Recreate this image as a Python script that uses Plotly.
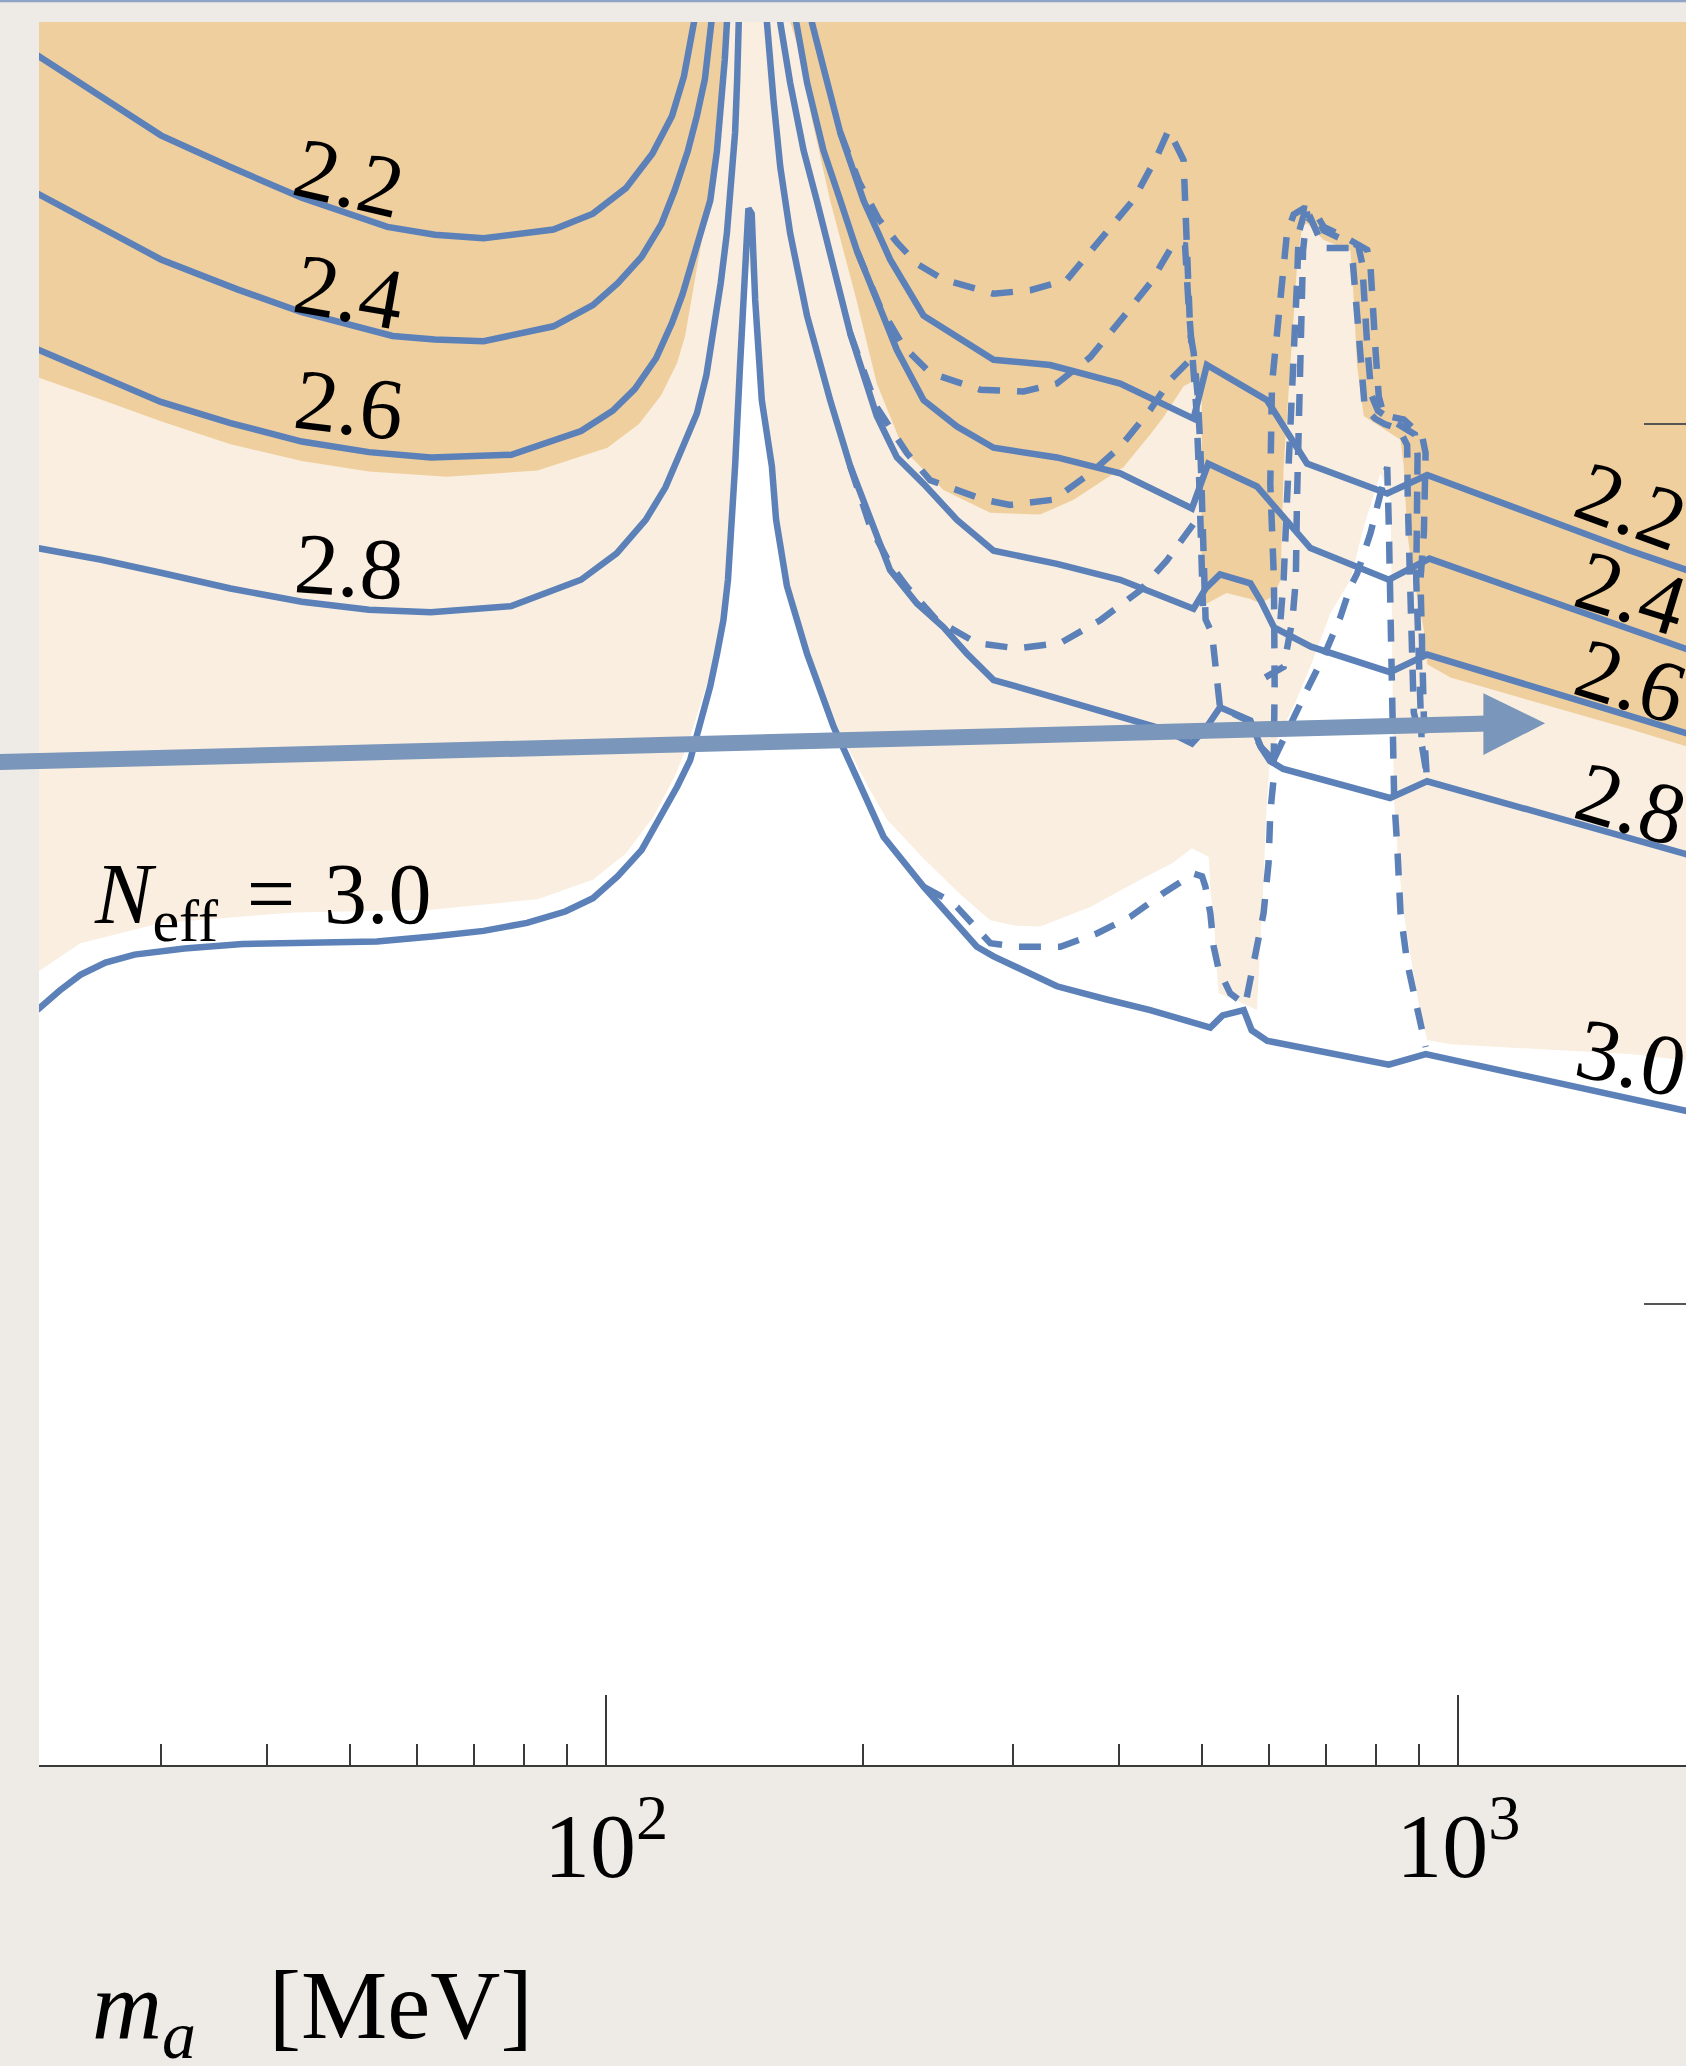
import numpy as np
import plotly.graph_objects as go

# ---------------- colours ----------------
ORANGE = "#F0CF9E"
CREAM = "#F9EEDF"
LINE = "#5C80B8"
ARROW = "#7A96BA"
PAGE = "#EEEBE6"
AXIS = "#3A3A3A"

# ---------------- axis ranges ----------------
X_RANGE = [1.33455, 3.2672]      # log10(m_a / MeV)
Y_RANGE = [0.4761, 2.4568]       # vertical coordinate (decades)

# ---------------- filled regions ----------------
# darker band (lowest N_eff)
OR_m = [21.26, 21.26, 25.49, 30.03, 36.25, 43.94, 52.68, 65.01, 83.09, 100.36, 109.3, 116.1, 121.2,
        123.8, 125.6, 127.8, 130.1, 132.5, 134.4, 136.3, 137.5, 137.8, 163.4, 164.6, 168.8, 174.3,
        183.2, 196.7, 207.8, 223.4, 248.8, 282.4, 323.1, 353.7, 404.8, 435.0, 451.0, 476.0, 493.6,
        499.9, 499.9, 534.7, 570.2, 586.5, 607.0, 618.6, 623.8, 635.2, 646.7, 655.5, 664.5, 695.2,
        747.3, 754.0, 760.8, 774.5, 817.7, 855.4, 863.0, 871.0, 886.7, 911.2, 919.3, 979.0, 1592,
        1919, 1919]
OR_u = [2.474, 2.055, 2.028, 2.003, 1.977, 1.958, 1.946, 1.940, 1.947, 1.973, 2.000, 2.033, 2.070,
        2.100, 2.135, 2.175, 2.220, 2.272, 2.332, 2.392, 2.456, 2.474, 2.474, 2.456, 2.422, 2.347,
        2.254, 2.141, 2.046, 1.971, 1.925, 1.899, 1.897, 1.914, 1.951, 1.988, 2.008, 2.043, 2.051,
        2.048, 1.793, 1.808, 1.801, 1.796, 1.805, 1.823, 1.952, 2.066, 2.179, 2.224, 2.228, 2.209,
        2.197, 2.141, 2.066, 2.009, 1.994, 1.982, 1.952, 1.876, 1.823, 1.766, 1.727, 1.712, 1.653,
        1.629, 2.474]

# light band
CR_m = [21.26, 21.26, 24.16, 30.03, 43.16, 62.28, 83.09, 96.50, 105.5, 113.7, 120.3, 124.7, 128.3,
        132.0, 135.8, 138.8, 141.2, 142.7, 144.3, 146.1, 146.9, 148.2, 149.5, 151.6, 155.5, 158.1,
        162.8, 171.8, 185.2, 202.4, 213.4, 235.9, 261.5, 282.4, 301.4, 323.1, 370.0, 423.4, 462.1,
        486.9, 509.6, 512.4, 516.4, 519.7, 523.4, 552.2, 580.4, 585.7, 590.9, 594.9, 601.7, 641.0,
        671.6, 707.9, 747.1, 774.5, 810.4, 832.7, 834.8, 836.6, 840.1, 849.1, 863.0, 883.6, 902.8,
        919.3, 979.0, 1592, 1919, 1919]
CR_u = [2.474, 1.374, 1.410, 1.433, 1.445, 1.448, 1.460, 1.482, 1.512, 1.554, 1.599, 1.636, 1.674,
        1.711, 1.763, 1.823, 1.891, 1.973, 2.066, 2.160, 2.187, 2.160, 2.093, 2.027, 1.965, 1.906,
        1.816, 1.741, 1.662, 1.590, 1.551, 1.506, 1.464, 1.436, 1.430, 1.429, 1.451, 1.482, 1.501,
        1.518, 1.508, 1.464, 1.444, 1.389, 1.353, 1.344, 1.334, 1.406, 1.482, 1.554, 1.626, 1.679,
        1.726, 1.785, 1.823, 1.883, 1.944, 1.914, 1.823, 1.709, 1.577, 1.509, 1.444, 1.382, 1.330,
        1.300, 1.295, 1.284, 1.275, 2.474]

# ---------------- solid contours, below the pion pole ----------------
L22_m = [21.5, 25.86, 30.03, 36.25, 43.94, 55.38, 62.95, 71.83, 86.74, 96.50, 105.5, 113.3, 119.5,
         123.4, 125.6, 126.9, 127.4]
L22_u = [2.419, 2.368, 2.328, 2.292, 2.257, 2.224, 2.215, 2.211, 2.221, 2.239, 2.268, 2.307, 2.350,
         2.395, 2.434, 2.456, 2.467]

L24_m = [21.5, 25.49, 30.03, 36.92, 43.94, 56.18, 62.95, 71.83, 86.74, 96.50, 103.2, 110.1, 116.1,
         120.3, 124.7, 127.8, 130.6, 132.9, 133.4]
L24_u = [2.262, 2.224, 2.187, 2.153, 2.127, 2.100, 2.096, 2.094, 2.111, 2.135, 2.160, 2.190, 2.227,
         2.265, 2.310, 2.350, 2.392, 2.456, 2.467]

L26_m = [21.5, 25.49, 30.03, 36.25, 43.94, 52.68, 62.28, 77.40, 93.46, 101.8, 108.1, 114.5, 119.5,
         122.9, 125.6, 128.8, 132.5, 134.9, 136.8, 137.8, 138.6, 138.8]
L26_u = [2.085, 2.054, 2.025, 2.001, 1.980, 1.968, 1.962, 1.965, 1.992, 2.015, 2.040, 2.075, 2.115,
         2.147, 2.179, 2.217, 2.254, 2.310, 2.368, 2.414, 2.456, 2.467]

L28_m = [21.5, 25.49, 30.03, 36.25, 43.94, 52.68, 62.28, 77.40, 93.46, 102.9, 111.3, 117.4, 122.9,
         127.8, 131.1, 133.7, 136.3, 138.6, 140.3, 141.7, 142.5, 143.0, 143.2]
L28_u = [1.859, 1.846, 1.831, 1.813, 1.798, 1.789, 1.786, 1.793, 1.823, 1.853, 1.891, 1.928, 1.973,
         2.012, 2.055, 2.103, 2.160, 2.217, 2.272, 2.331, 2.392, 2.456, 2.467]

# N_eff = 3.0, across the whole mass range
S30_m = [21.5, 22.83, 24.16, 25.86, 27.97, 32.00, 37.44, 45.69, 53.83, 62.95, 71.83, 80.77, 89.56,
         96.50, 103.2, 110.1, 116.1, 121.2, 125.5, 127.8, 130.1, 132.5, 134.9, 137.3, 139.0, 140.5,
         141.7, 143.6, 145.6, 146.9, 148.2, 149.6, 152.3, 156.5, 158.3, 163.0, 172.1, 184.9, 200.5,
         211.6, 235.9, 272.3, 284.9, 338.1, 386.9, 435.0, 511.7, 529.0, 560.1, 572.2, 597.0, 828.9,
         915.7, 1852, 1919]
S30_u = [1.334, 1.356, 1.374, 1.388, 1.397, 1.404, 1.409, 1.410, 1.412, 1.418, 1.424, 1.433, 1.446,
         1.461, 1.486, 1.516, 1.554, 1.588, 1.618, 1.645, 1.672, 1.702, 1.738, 1.777, 1.823, 1.891,
         1.952, 2.066, 2.179, 2.245, 2.239, 2.141, 2.027, 1.952, 1.891, 1.816, 1.739, 1.656, 1.581,
         1.531, 1.474, 1.406, 1.395, 1.361, 1.346, 1.334, 1.314, 1.328, 1.334, 1.311, 1.299, 1.272,
         1.284, 1.219, 1.216]

# ---------------- solid contours, above the pion pole ----------------
R28_m = [154.1, 154.4, 157.2, 160.1, 164.4, 172.1, 183.2, 193.4, 204.2, 215.4, 231.6, 248.9, 265.1,
         284.9, 323.1, 386.9, 451.0, 486.9, 505.2, 525.3, 570.2, 586.5, 601.3, 623.1, 831.6, 919.1,
         1592, 1919]
R28_u = [2.467, 2.456, 2.368, 2.292, 2.217, 2.123, 2.027, 1.952, 1.891, 1.834, 1.796, 1.769, 1.739,
         1.709, 1.694, 1.671, 1.653, 1.637, 1.654, 1.678, 1.663, 1.633, 1.617, 1.608, 1.575, 1.594,
         1.530, 1.507]

R26_m = [159.7, 160.1, 164.4, 170.5, 176.7, 184.9, 193.4, 207.8, 219.4, 235.8, 258.1, 284.9, 338.1,
         401.1, 489.0, 505.2, 525.3, 570.2, 586.5, 607.7, 671.6, 831.6, 919.1, 1592, 1919]
R26_u = [2.467, 2.456, 2.388, 2.311, 2.254, 2.179, 2.103, 2.009, 1.962, 1.932, 1.891, 1.856, 1.841,
         1.823, 1.790, 1.813, 1.829, 1.819, 1.799, 1.769, 1.747, 1.718, 1.738, 1.668, 1.644]

R24_m = [167.0, 167.2, 172.1, 179.9, 188.3, 196.9, 207.8, 219.4, 235.8, 258.1, 284.9, 338.1, 401.1,
         486.9, 508.8, 580.4, 670.6, 828.9, 925.0, 1592, 1919]
R24_u = [2.467, 2.456, 2.388, 2.311, 2.254, 2.197, 2.141, 2.084, 2.027, 1.997, 1.973, 1.962, 1.944,
         1.904, 1.955, 1.929, 1.859, 1.823, 1.847, 1.766, 1.739]

R22_m = [174.3, 174.4, 179.9, 188.3, 200.5, 215.4, 235.8, 284.9, 332.0, 401.1, 489.0, 507.0, 596.4,
         664.5, 825.3, 919.3, 1592, 1919]
R22_u = [2.467, 2.456, 2.405, 2.331, 2.254, 2.187, 2.123, 2.073, 2.067, 2.046, 2.006, 2.067, 2.027,
         1.955, 1.921, 1.942, 1.856, 1.829]

# ---------------- dashed contours ----------------
DU1_m = [188.3, 198.1, 208.8, 219.6, 231.6, 248.9, 284.9, 314.6, 347.4, 380.1, 415.9, 442.9, 457.2,
         476.0, 480.4, 484.7, 489.2, 494.5, 498.1, 500.4, 502.7, 505.2, 514.0, 521.0, 525.3, 566.1,
         586.5, 607.0]
DU1_u = [2.331, 2.275, 2.233, 2.206, 2.182, 2.164, 2.148, 2.152, 2.164, 2.209, 2.255, 2.304, 2.334,
         2.300, 2.217, 2.103, 2.081, 2.033, 1.973, 1.913, 1.831, 1.778, 1.762, 1.705, 1.678, 1.663,
         1.633, 1.618]

DU2_m = [196.9, 209.7, 223.4, 240.1, 274.8, 309.0, 338.1, 370.0, 404.8, 435.0, 463.4, 477.9, 482.3,
         487.5, 492.7, 496.3, 498.9, 501.6]
DU2_u = [2.197, 2.133, 2.088, 2.058, 2.039, 2.037, 2.046, 2.076, 2.122, 2.160, 2.205, 2.203, 2.138,
         2.078, 2.018, 1.943, 1.868, 1.793]

DU3_m = [193.4, 207.8, 225.4, 240.1, 277.3, 297.9, 335.0, 370.0, 401.1, 435.0, 459.2, 484.7, 489.2]
DU3_u = [2.103, 2.019, 1.967, 1.936, 1.914, 1.908, 1.914, 1.944, 1.974, 2.016, 2.050, 2.073, 2.081]

DU4_m = [193.4, 204.2, 215.4, 225.4, 244.4, 272.3, 303.4, 341.2, 380.1, 423.4, 455.1, 484.7, 496.3]
DU4_u = [1.952, 1.883, 1.841, 1.815, 1.777, 1.751, 1.745, 1.751, 1.777, 1.811, 1.845, 1.880, 1.895]

D30_m = [235.9, 248.8, 258.1, 272.3, 282.4, 303.4, 341.2, 376.6, 412.1, 451.0, 476.0, 489.2, 500.4,
         505.0, 511.7, 516.4, 523.4, 540.0, 562.4, 580.6, 590.9, 598.9, 601.7, 607.0, 608.8, 607.7,
         601.7, 604.5, 612.8, 621.1, 629.5, 641.0, 658.5, 676.6, 695.2, 733.8, 781.7, 788.8, 792.4,
         799.6, 806.7, 817.7, 863.0, 907.0, 915.4, 911.2, 902.8, 907.0, 912.4, 919.1]
D30_u = [1.474, 1.462, 1.451, 1.425, 1.410, 1.406, 1.406, 1.421, 1.440, 1.467, 1.482, 1.489, 1.486,
         1.474, 1.444, 1.406, 1.380, 1.353, 1.340, 1.406, 1.444, 1.501, 1.558, 1.596, 1.703, 1.823,
         1.932, 2.046, 2.103, 2.160, 2.217, 2.238, 2.245, 2.243, 2.224, 2.213, 2.198, 2.179, 2.141,
         2.084, 2.031, 2.010, 2.005, 1.986, 1.967, 1.876, 1.823, 1.733, 1.644, 1.594]

DSM_m = [618.6, 623.8, 629.5, 635.2, 641.0, 646.7, 649.7, 658.5, 676.4, 695.2, 734.0, 763.1, 771.4,
         775.5, 782.4, 790.8, 805.0, 846.1, 889.4, 895.8, 895.8, 892.6, 899.0, 905.4]
DSM_u = [1.778, 1.823, 1.913, 1.989, 2.065, 2.160, 2.217, 2.237, 2.239, 2.220, 2.209, 2.203, 2.182,
         2.141, 2.085, 2.033, 2.015, 2.001, 1.988, 1.965, 1.876, 1.823, 1.733, 1.644]

DSI_m = [593.7, 623.8, 638.9, 644.7, 646.7, 650.4, 653.9, 657.4, 662.2, 671.6, 695.2, 747.3, 752.3,
         757.7, 763.1, 770.0, 776.8, 799.1, 819.4, 852.1, 871.0, 872.4, 878.9, 886.7, 907.0, 919.1]
DSI_u = [1.712, 1.724, 1.778, 1.823, 1.913, 2.033, 2.123, 2.197, 2.227, 2.233, 2.200, 2.200, 2.182,
         2.141, 2.100, 2.055, 2.018, 2.006, 2.000, 1.994, 1.976, 1.913, 1.823, 1.672, 1.633, 1.599]

DDG_m = [607.0, 635.2, 664.5, 695.2, 727.4, 747.1, 760.8, 788.8, 817.7, 825.3, 828.9, 831.8, 836.2,
         840.8, 848.0, 855.4, 871.0, 894.7, 915.7]
DDG_u = [1.618, 1.660, 1.698, 1.736, 1.781, 1.815, 1.830, 1.876, 1.933, 1.951, 1.883, 1.823, 1.703,
         1.576, 1.519, 1.445, 1.388, 1.338, 1.292]

# ---------------- contour labels ----------------
LEFT_TEXT = ["2.2", "2.4", "2.6", "2.8"]
LEFT_M = [50.0, 50.0, 50.0, 50.0]
LEFT_U = [2.280, 2.150, 2.022, 1.838]
LEFT_ANGLE = [13, 10, 7, 4]

RIGHT_TEXT = ["2.2", "2.4", "2.6", "2.8", "3.0"]
RIGHT_M = [1595, 1595, 1595, 1595, 1595]
RIGHT_U = [1.907, 1.808, 1.709, 1.569, 1.280]
RIGHT_ANGLE = [20, 17, 17, 16, 12]

NEFF_M = 24.95
NEFF_U = 1.4595

X_TICKS = [100, 1000]
X_TICKTEXT = ["10<sup>2</sup>", "10<sup>3</sup>"]
X_MINOR = [30, 40, 50, 60, 70, 80, 90, 200, 300, 400, 500, 600, 700, 800, 900]
Y_TICKS = [1, 2]

SERIF = "Liberation Serif, DejaVu Serif, serif"
LW = 6.5

fig = go.Figure()

for xs, ys, col in [(CR_m, CR_u, CREAM), (OR_m, OR_u, ORANGE)]:
    fig.add_trace(go.Scatter(x=xs, y=ys, mode="lines", fill="toself", fillcolor=col,
                             line=dict(width=0), hoverinfo="skip"))

solid = [(L22_m, L22_u), (L24_m, L24_u), (L26_m, L26_u), (L28_m, L28_u), (S30_m, S30_u),
         (R28_m, R28_u), (R26_m, R26_u), (R24_m, R24_u), (R22_m, R22_u)]
for xs, ys in solid:
    fig.add_trace(go.Scatter(x=xs, y=ys, mode="lines",
                             line=dict(color=LINE, width=LW), hoverinfo="skip"))

dashed = [(DU1_m, DU1_u), (DU2_m, DU2_u), (DU3_m, DU3_u), (DU4_m, DU4_u), (D30_m, D30_u),
          (DSM_m, DSM_u), (DSI_m, DSI_u), (DDG_m, DDG_u)]
for xs, ys in dashed:
    fig.add_trace(go.Scatter(x=xs, y=ys, mode="lines",
                             line=dict(color=LINE, width=LW, dash="22px,17px"), hoverinfo="skip"))

annotations = []
for t, m, u, a in zip(LEFT_TEXT, LEFT_M, LEFT_U, LEFT_ANGLE):
    annotations.append(dict(x=np.log10(m), y=u, xref="x", yref="y", text=t, textangle=a,
                            showarrow=False, xanchor="center", yanchor="middle",
                            font=dict(family=SERIF, size=87, color="black")))
for t, m, u, a in zip(RIGHT_TEXT, RIGHT_M, RIGHT_U, RIGHT_ANGLE):
    annotations.append(dict(x=np.log10(m), y=u, xref="x", yref="y", text=t, textangle=a,
                            showarrow=False, xanchor="center", yanchor="middle",
                            font=dict(family=SERIF, size=87, color="black")))
annotations.append(dict(x=np.log10(NEFF_M), y=NEFF_U, xref="x", yref="y",
                        text="<i>N</i><sub>eff</sub>\u2004=\u20043.0", showarrow=False,
                        xanchor="left", yanchor="middle",
                        font=dict(family=SERIF, size=86, color="black")))
annotations.append(dict(x=0.031, y=-0.142, xref="paper", yref="paper",
                        text="<i>m</i><sub><i>a</i></sub>\u2002\u2005[MeV]", showarrow=False,
                        xanchor="left", yanchor="middle",
                        font=dict(family=SERIF, size=97, color="black")))

shapes = [
    # thin rule along the top edge of the page
    dict(type="line", xref="paper", yref="paper", x0=-0.05, x1=1.05, y0=1.0120, y1=1.0120,
         line=dict(color="#8EA4C4", width=2.5), layer="above"),
    # arrow shaft and head
    dict(type="line", xref="paper", yref="paper", x0=-0.03, y0=0.57527, x1=0.8800, y1=0.59753,
         line=dict(color=ARROW, width=16), layer="above"),
    dict(type="path", xref="paper", yref="paper",
         path="M 0.87699,0.61492 L 0.91445,0.59765 L 0.87699,0.57946 Z",
         fillcolor=ARROW, line=dict(width=0), layer="above"),
]

fig.update_layout(
    width=1686, height=2066,
    margin=dict(l=39, r=0, t=22, b=301, pad=0),
    paper_bgcolor=PAGE, plot_bgcolor="white",
    showlegend=False,
    annotations=annotations,
    shapes=shapes,
    xaxis=dict(type="log", range=X_RANGE, showgrid=False, zeroline=False,
               showline=True, linecolor=AXIS, linewidth=2, mirror=False,
               ticks="inside", ticklen=70, tickwidth=1.6, tickcolor=AXIS,
               tickvals=X_TICKS, ticktext=X_TICKTEXT,
               tickfont=dict(family=SERIF, size=92, color="black"),
               minor=dict(tickvals=X_MINOR, ticks="inside", ticklen=21, tickwidth=1.6,
                          tickcolor=AXIS, showgrid=False),
               automargin=False),
    yaxis=dict(range=Y_RANGE, side="right", showgrid=False, zeroline=False, showline=False,
               ticks="inside", ticklen=42, tickwidth=1.6, tickcolor="#555555",
               tickvals=Y_TICKS, showticklabels=False, automargin=False),
)

fig.write_html("out.html")
